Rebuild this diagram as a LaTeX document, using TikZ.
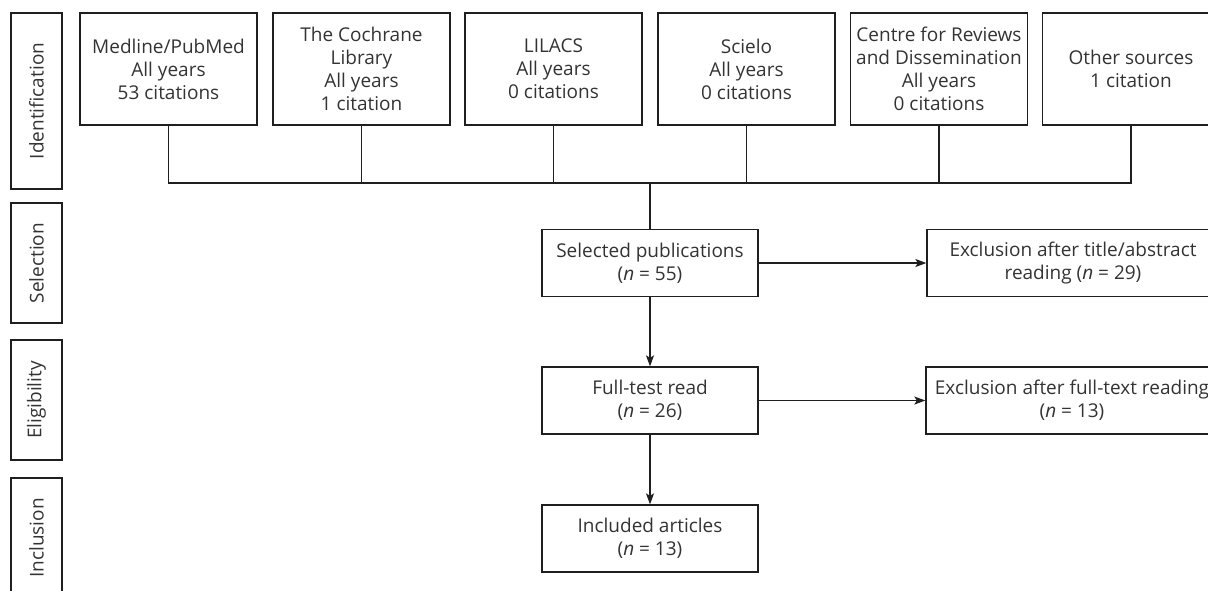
\documentclass[tikz,border=0pt]{standalone}
\usepackage{fontspec}
\setmainfont{Open Sans}
\usetikzlibrary{arrows.meta}
\begin{document}
\begin{tikzpicture}[x=1pt,y=-1pt,
  box/.style={draw=black!88, line width=1.3pt, align=center, inner sep=0pt,
    font=\fontsize{19}{23}\selectfont, text=black!80},
  src/.style={box, minimum width=177pt, minimum height=112pt},
  flow/.style={box, minimum width=216pt, minimum height=67pt},
  excl/.style={box, minimum width=292pt, minimum height=67pt},
  side/.style={box, rotate=90, minimum height=51pt},
  conn/.style={draw=black!88, line width=1.3pt},
  arr/.style={conn, -{Stealth[length=11pt,width=8pt,inset=2.5pt]}}]
\useasboundingbox (0,0) rectangle (1208,590);
\clip (0,0) rectangle (1208,590);
% side labels
\node[side, minimum width=176pt] (sid) at (36.5,101) {Identification};
\node[side, minimum width=120pt] (ssel) at (36.5,263) {Selection};
\node[side, minimum width=120pt] (selig) at (36.5,400) {Eligibility};
\node[side, minimum width=120pt] (sinc) at (36.5,538) {Inclusion};
% sources
\node[src] (m1) at (168.5,69) {Medline/PubMed\\All years\\53 citations};
\node[src] (m2) at (361.5,69) {The Cochrane\\Library\\All years\\1 citation};
\node[src] (m3) at (553.5,69) {LILACS\\All years\\0 citations};
\node[src] (m4) at (746.5,69) {Scielo\\All years\\0 citations};
\node[src] (m5) at (939,69) {Centre for Reviews\\and Dissemination\\All years\\0 citations};
\node[src] (m6) at (1131,69) {Other sources\\1 citation};
\coordinate (hub) at (650,183);
% flow
\node[flow] (sel) at (650,263) {Selected publications\\(\textit{n} = 55)};
\node[flow] (full) at (650,400.5) {Full-test read\\(\textit{n} = 26)};
\node[flow] (inc) at (650,538.5) {Included articles\\(\textit{n} = 13)};
\node[excl] (ex1) at (1073,263) {Exclusion after title/abstract\\reading (\textit{n} = 29)};
\node[excl] (ex2) at (1072,400.5) {Exclusion after full-text reading\\(\textit{n} = 13)};
% connectors
\draw[conn] (m1.south) -- (m1.south |- hub) -- (m6.south |- hub) -- (m6.south);
\foreach \m in {m2,m3,m4,m5}{\draw[conn] (\m.south) -- (\m.south |- hub);}
\draw[conn] (hub) -- (sel.north);
\draw[arr] (sel.east) -- (ex1.west);
\draw[arr] (full.east) -- (ex2.west);
\draw[arr] (sel.south) -- (full.north);
\draw[arr] (full.south) -- (inc.north);
\end{tikzpicture}
\end{document}
